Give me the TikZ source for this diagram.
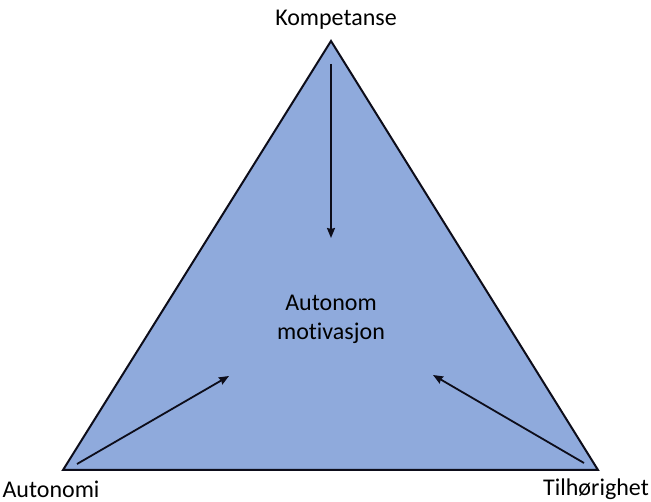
\documentclass[tikz,border=0pt]{standalone}
\usepackage{fontspec}
\setmainfont{Carlito}[Ligatures={NoCommon}]
\usetikzlibrary{arrows.meta}
\definecolor{trifill}{HTML}{8FAADC}
\definecolor{lineblk}{HTML}{0D0D1A}
\begin{document}
\begin{tikzpicture}[x=1pt,y=-1pt,
  lbl/.style={font=\fontsize{24}{29}\selectfont, inner sep=0pt, align=center},
  arr/.style={draw=lineblk, line width=1.8pt, -{Stealth[length=10pt,width=8pt,inset=1pt]}}]
\useasboundingbox (0,0) rectangle (651,502);
\coordinate (A) at (331,41);
\coordinate (B) at (63,470);
\coordinate (C) at (598,470);
\path[fill=trifill, draw=lineblk, line width=2pt, line join=miter] (A) -- (B) -- (C) -- cycle;
\node[lbl] (komp) at (336,20) {Kompetanse};
\node[lbl] (auto) at (51,489) {Autonomi};
\node[lbl] (tilh) at (596,489) {Tilhørighet};
\node[lbl] (mid) at (331,319) {Autonom\\motivasjon};
\coordinate (t0) at (331,64);
\coordinate (t1) at (331,238);
\coordinate (l0) at (77,464);
\coordinate (l1) at (229,376);
\coordinate (r0) at (584,463);
\coordinate (r1) at (433,375);
\draw[arr] (t0) -- (t1);
\draw[arr] (l0) -- (l1);
\draw[arr] (r0) -- (r1);
\end{tikzpicture}
\end{document}
